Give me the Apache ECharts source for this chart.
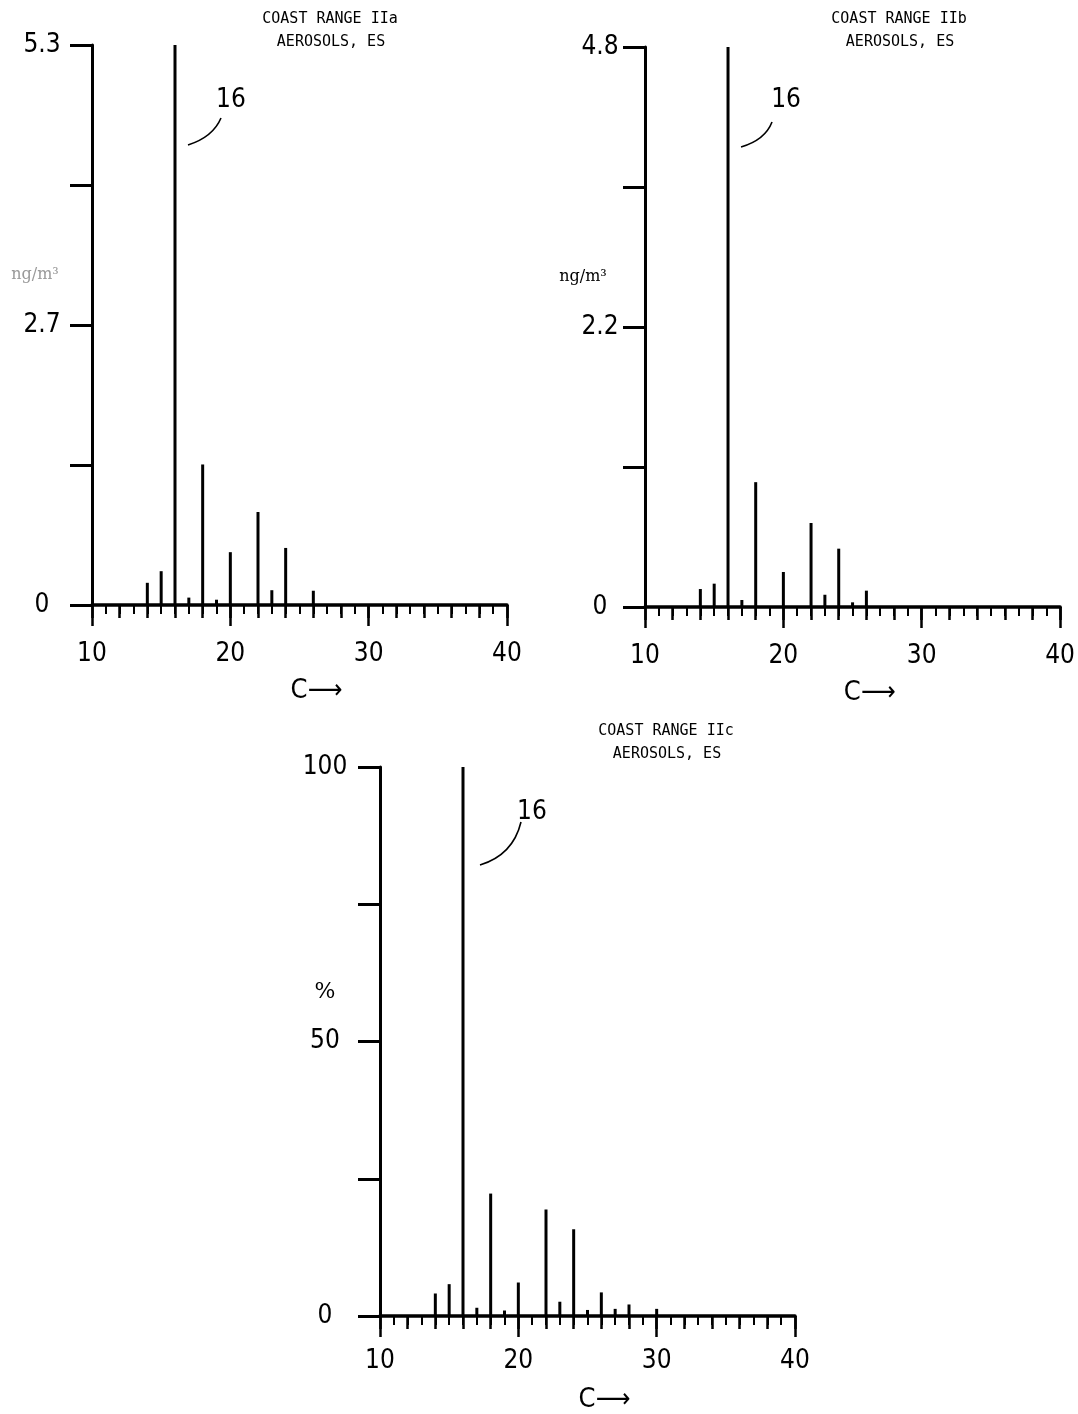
<!DOCTYPE html>
<html>
<head>
<meta charset="utf-8">
<script src="https://cdn.jsdelivr.net/npm/echarts@6/dist/echarts.min.js"></script>
<style>
html,body{margin:0;padding:0;background:#fff;}
#c{width:1078px;height:1414px;}
</style>
</head>
<body>
<div id="c"></div>
<script>
// ---- data ----
const titlesA = ['COAST RANGE IIa', 'AEROSOLS, ES'];
const titlesB = ['COAST RANGE IIb', 'AEROSOLS, ES'];
const titlesC = ['COAST RANGE IIc', 'AEROSOLS, ES'];

const carbonsA = [14, 15, 16, 17, 18, 19, 20, 22, 23, 24, 26];
const valuesA  = [0.21, 0.32, 5.3, 0.07, 1.33, 0.05, 0.50, 0.88, 0.14, 0.54, 0.135];

const carbonsB = [14, 15, 16, 17, 18, 20, 22, 23, 24, 25, 26];
const valuesB  = [0.154, 0.20, 4.8, 0.06, 1.07, 0.30, 0.72, 0.105, 0.50, 0.04, 0.14];

const carbonsC = [14, 15, 16, 17, 18, 19, 20, 22, 23, 24, 25, 26, 27, 28, 30];
const valuesC  = [4.1, 5.8, 100, 1.5, 22.3, 1.0, 6.1, 19.4, 2.6, 15.8, 1.1, 4.3, 1.3, 2.1, 1.3];

const yMaxA = 5.3, yMaxB = 4.8, yMaxC = 100;
const yTickLabelsA = ['0', '', '2.7', '', '5.3'];
const yTickLabelsB = ['0', '', '2.2', '', '4.8'];
const yTickLabelsC = ['0', '', '50', '', '100'];
const xTickLabels = ['10', '20', '30', '40'];
const yUnitsA = 'ng/m³', yUnitsB = 'ng/m³', yUnitsC = '%';
const xName = 'C⟶';
const peakCarbon = 16;

// ---- chart ----
const NUM_FONT = "'Liberation Sans Narrow','DejaVu Sans Condensed','Liberation Sans',sans-serif";
const MONO = "'DejaVu Sans Mono','Liberation Mono',monospace";

const panels = [
  {grid:{left:92, right:571, top:45, bottom:809}, carbons:carbonsA, values:valuesA, max:yMaxA, ylab:yTickLabelsA, ymargin:50, xmargin:36, nameGap:72},
  {grid:{left:645, right:17, top:47, bottom:807}, carbons:carbonsB, values:valuesB, max:yMaxB, ylab:yTickLabelsB, ymargin:45, xmargin:36, nameGap:72},
  {grid:{left:380, right:283, top:767, bottom:94}, carbons:carbonsC, values:valuesC, max:yMaxC, ylab:yTickLabelsC, ymargin:55, xmargin:32, nameGap:70}
];

const grids = [], xAxes = [], yAxes = [], series = [];
panels.forEach((p, i) => {
  grids.push(Object.assign({containLabel:false}, p.grid));
  // main x axis: decades labelled, long ticks, minor ticks every carbon
  xAxes.push({
    type:'value', gridIndex:i, min:10, max:40, interval:10, position:'bottom',
    axisLine:{show:true, onZero:false, lineStyle:{color:'#000', width:3.5}},
    axisTick:{show:true, length:21, lineStyle:{color:'#000', width:2.5}},
    minorTick:{show:true, splitNumber:10, length:9, lineStyle:{color:'#000', width:2}},
    splitLine:{show:false}, minorSplitLine:{show:false},
    axisLabel:{show:true, margin:p.xmargin, color:'#000', fontFamily:NUM_FONT, fontSize:26,
      formatter:(v)=>{const k=Math.round((v-10)/10); return xTickLabels[k]!==undefined?xTickLabels[k]:'';}},
    name:xName, nameLocation:'middle', nameGap:p.nameGap,
    nameTextStyle:{color:'#000', fontFamily:"'DejaVu Sans Condensed','DejaVu Sans',sans-serif", fontSize:27, padding:[0,0,0,34]}
  });
  // secondary x axis: even-carbon ticks
  xAxes.push({
    type:'value', gridIndex:i, min:10, max:40, interval:2, position:'bottom',
    axisLine:{show:false, onZero:false},
    axisTick:{show:true, length:13, lineStyle:{color:'#000', width:2.5}},
    axisLabel:{show:false}, splitLine:{show:false}
  });
  yAxes.push({
    type:'value', gridIndex:i, min:0, max:p.max, interval:p.max/4,
    axisLine:{show:true, lineStyle:{color:'#000', width:3}},
    axisTick:{show:true, length:22, lineStyle:{color:'#000', width:3}},
    splitLine:{show:false},
    axisLabel:{show:true, margin:p.ymargin, align:'center', color:'#000', fontFamily:NUM_FONT, fontSize:26,
      formatter:((labs)=> (v, idx) => labs[idx] !== undefined ? labs[idx] : '')(p.ylab)}
  });
  series.push({
    type:'bar', xAxisIndex:i*2, yAxisIndex:i, barWidth:3,
    itemStyle:{color:'#000'}, silent:true, animation:false,
    data:p.carbons.map((c, k) => [c, p.values[k]])
  });
});

const chart = echarts.init(document.getElementById('c'), null, {renderer:'canvas'});
chart.setOption({
  animation:false,
  backgroundColor:'#fff',
  grid:grids, xAxis:xAxes, yAxis:yAxes, series:series
});

// ---- annotations positioned from the axes ----
const titles = [titlesA, titlesB, titlesC];
const titleOffsets = [[155, -26], [171, -28], [203, -36]]; // relative to peak bar top (dx, dy)
const units = [yUnitsA, yUnitsB, yUnitsC];
const unitColors = ['#999', '#000', '#000'];
const unitFonts = ['16px', '16px', '22px'];
const unitDx = [-57, -62, -55];
const leader = [
  {s:[13,100], c:[38,92], e:[46,73], t:[56,55]},
  {s:[13,100], c:[37,93], e:[44,75], t:[58,53]},
  {s:[17,98], c:[50,88], e:[58,55], t:[69,45]}
];
const graphics = [];
panels.forEach((p, i) => {
  const top = chart.convertToPixel({xAxisIndex:i*2, yAxisIndex:i}, [peakCarbon, p.max]);
  const org = chart.convertToPixel({xAxisIndex:i*2, yAxisIndex:i}, [10, p.max*0.59]);
  const L = leader[i];
  graphics.push({
    type:'bezierCurve', silent:true,
    shape:{x1:top[0]+L.s[0], y1:top[1]+L.s[1], cpx1:top[0]+L.c[0], cpy1:top[1]+L.c[1], x2:top[0]+L.e[0], y2:top[1]+L.e[1]},
    style:{stroke:'#000', lineWidth:1.6, fill:null}
  });
  graphics.push({
    type:'text', silent:true, x:top[0]+L.t[0], y:top[1]+L.t[1],
    style:{text:String(peakCarbon), fill:'#000', font:'26px ' + NUM_FONT, align:'center', verticalAlign:'middle'}
  });
  const to = titleOffsets[i];
  graphics.push({
    type:'text', silent:true, x:top[0]+to[0], y:top[1]+to[1],
    style:{text:titles[i][0], fill:'#000', font:'15px ' + MONO, align:'center', verticalAlign:'middle'}
  });
  graphics.push({
    type:'text', silent:true, x:top[0]+to[0]+1, y:top[1]+to[1]+23,
    style:{text:titles[i][1], fill:'#000', font:'15px ' + MONO, align:'center', verticalAlign:'middle'}
  });
  graphics.push({
    type:'text', silent:true, x:org[0]+unitDx[i], y:org[1],
    style:{text:units[i], fill:unitColors[i], font:unitFonts[i] + " 'DejaVu Serif','Liberation Serif',serif", align:'center', verticalAlign:'middle'}
  });
});
chart.setOption({graphic:graphics});
</script>
</body>
</html>
